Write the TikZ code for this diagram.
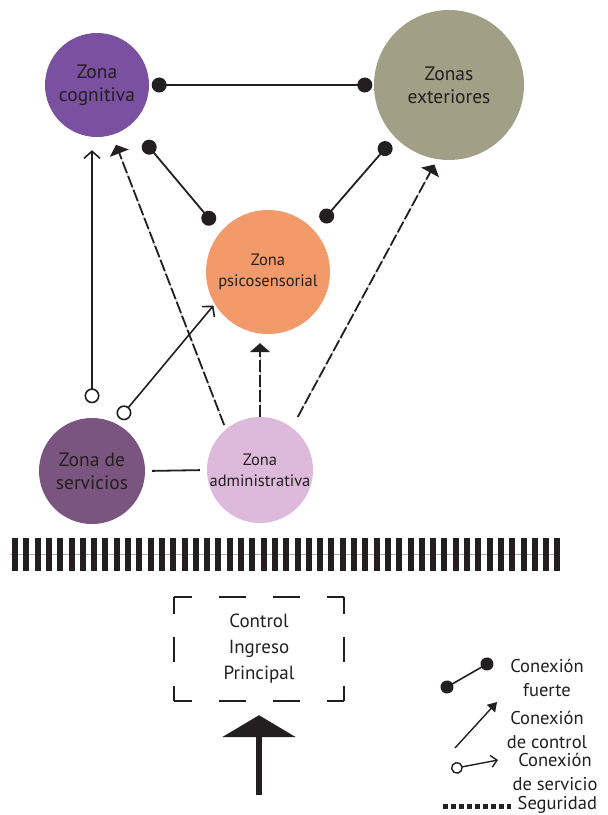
\documentclass[tikz,border=0pt]{standalone}
\usepackage{fontspec}
\setmainfont{PT Sans}
\usetikzlibrary{arrows.meta}
\definecolor{txt}{HTML}{231F20}
\definecolor{cogc}{HTML}{7A50A0}
\definecolor{extc}{HTML}{A19F85}
\definecolor{psic}{HTML}{F39A6B}
\definecolor{servc}{HTML}{7A5580}
\definecolor{admc}{HTML}{DDBADB}

\begin{document}
\begin{tikzpicture}[x=1pt,y=-1pt,>=Stealth,
    zone/.style={circle,inner sep=0pt,text=txt,align=center},
    big/.style={font=\fontsize{19.5}{23}\selectfont},
    small/.style={font=\fontsize{16.5}{21}\selectfont},
    strong/.style={line width=1.8pt,draw=txt,{Circle[length=15pt]}-{Circle[length=15pt]}},
    service/.style={line width=1.6pt,draw=txt,{Circle[open,fill=white,length=15pt]}-{Straight Barb[length=7pt,width=16pt]}},
    control/.style={line width=1.8pt,draw=txt,dash pattern=on 12pt off 3pt,
        preaction={draw=gray!60,line width=0.6pt,solid,-},-{Triangle[width=20pt,length=9pt]}},
    legend/.style={text=txt,align=center,inner sep=0.5pt,font=\fontsize{18.5}{24}\selectfont}]
    \useasboundingbox (0,0) rectangle (608,815);
    % zonas
    \node[zone,big,fill=cogc,minimum size=104pt] (cog) at (97,85) {Zona\\cognitiva};
    \node[zone,big,fill=extc,minimum size=150pt] (ext) at (449,85) {Zonas\\exteriores};
    \node[zone,small,fill=psic,minimum size=124pt] (psi) at (268,272) {Zona\\psicosensorial};
    \node[zone,big,fill=servc,minimum size=106pt] (serv) at (92,471) {Zona de\\servicios};
    \node[zone,small,fill=admc,minimum size=106pt] (adm) at (260,470) {Zona\\administrativa};
    % conexiones fuertes
    \draw[strong,shorten <=2.5pt,shorten >=1.5pt] (cog.east) -- (ext.west);
    \draw[strong,shorten <=21.5pt,shorten >=10.5pt] (cog.-50) -- (psi.140);
    \draw[strong,shorten <=7.5pt,shorten >=11.5pt] (ext.-136) -- (psi.42);
    % conexiones de servicio
    \draw[service,shorten <=14.5pt,shorten >=13pt] (serv.north) -- (serv.north |- cog.south);
    \draw[service,shorten <=6pt,shorten >=2pt] (serv.64) -- (psi.211);
    % conexiones de control
    \draw[control,shorten <=4.5pt,shorten >=10.6pt] (adm.130) -- (cog.287);
    \draw[control,shorten >=9pt] (adm.north) -- (adm.north |- psi.south);
    \draw[control,shorten <=12pt,shorten >=6pt] (adm.53) -- (ext.261);
    \draw[line width=1.8pt,draw=txt,shorten <=7pt,shorten >=7pt] (serv.east) -- (adm.west);
    % seguridad
    \draw[gray!60,line width=0.8pt] (10,554) -- (558,554);
    \draw[txt,line width=33pt,dash pattern=on 6pt off 5.3pt] (12,554) -- (560,554);
    % control de ingreso
    \node[text=txt,align=center,font=\fontsize{19}{26}\selectfont,minimum width=169pt,minimum height=104pt] (entrada) at (259,649) {Control\\Ingreso\\Principal\rule[-5pt]{0pt}{0pt}};
    \draw[txt,line width=2pt,dash pattern=on 27pt off 27pt,dash phase=9pt]
        (entrada.north west) -- (entrada.north east) (entrada.south west) -- (entrada.south east);
    \draw[txt,line width=2pt,dash pattern=on 25pt off 23.5pt,dash phase=8pt]
        (entrada.north west) -- (entrada.south west) (entrada.north east) -- (entrada.south east);
    \coordinate (acceso) at (entrada.south |- 0,795);
    \draw[txt,line width=6pt,shorten >=14pt,-{Triangle[width=73pt,length=22pt]}] (acceso) -- (entrada.south);
    % leyenda
    \coordinate (f1) at (447,687);
    \coordinate (f2) at (487,664);
    \draw[line width=1.6pt,draw=txt,{Circle[length=13pt]}-{Circle[length=13pt]},shorten <=-6.5pt,shorten >=-6.5pt] (f1) -- (f2);
    \node[legend] (lfuerte) at (547,678) {Conexión\\fuerte};
    \coordinate (c1) at (455,748);
    \coordinate (c2) at (497,702);
    \draw[line width=1.4pt,draw=txt,-{Triangle[width=11pt,length=9pt]}] (c1) -- (c2);
    \node[legend] (lcontrol) at (547,730) {Conexión\\de control};
    \coordinate (s1) at (451,769);
    \coordinate (s2) at (498,760);
    \draw[line width=1.4pt,draw=txt,{Circle[open,fill=white,length=12pt]}-{Straight Barb[length=6pt,width=12pt]}] (s1) -- (s2);
    \node[legend] (lservicio) at (555,772) {Conexión\\de servicio};
    \coordinate (g1) at (443,806);
    \coordinate (g2) at (511,806);
    \draw[txt,line width=5pt,dash pattern=on 5pt off 3pt] (g1) -- (g2);
    \node[legend,anchor=west] (lseguridad) at (517,805) {Seguridad};
\end{tikzpicture}
\end{document}
